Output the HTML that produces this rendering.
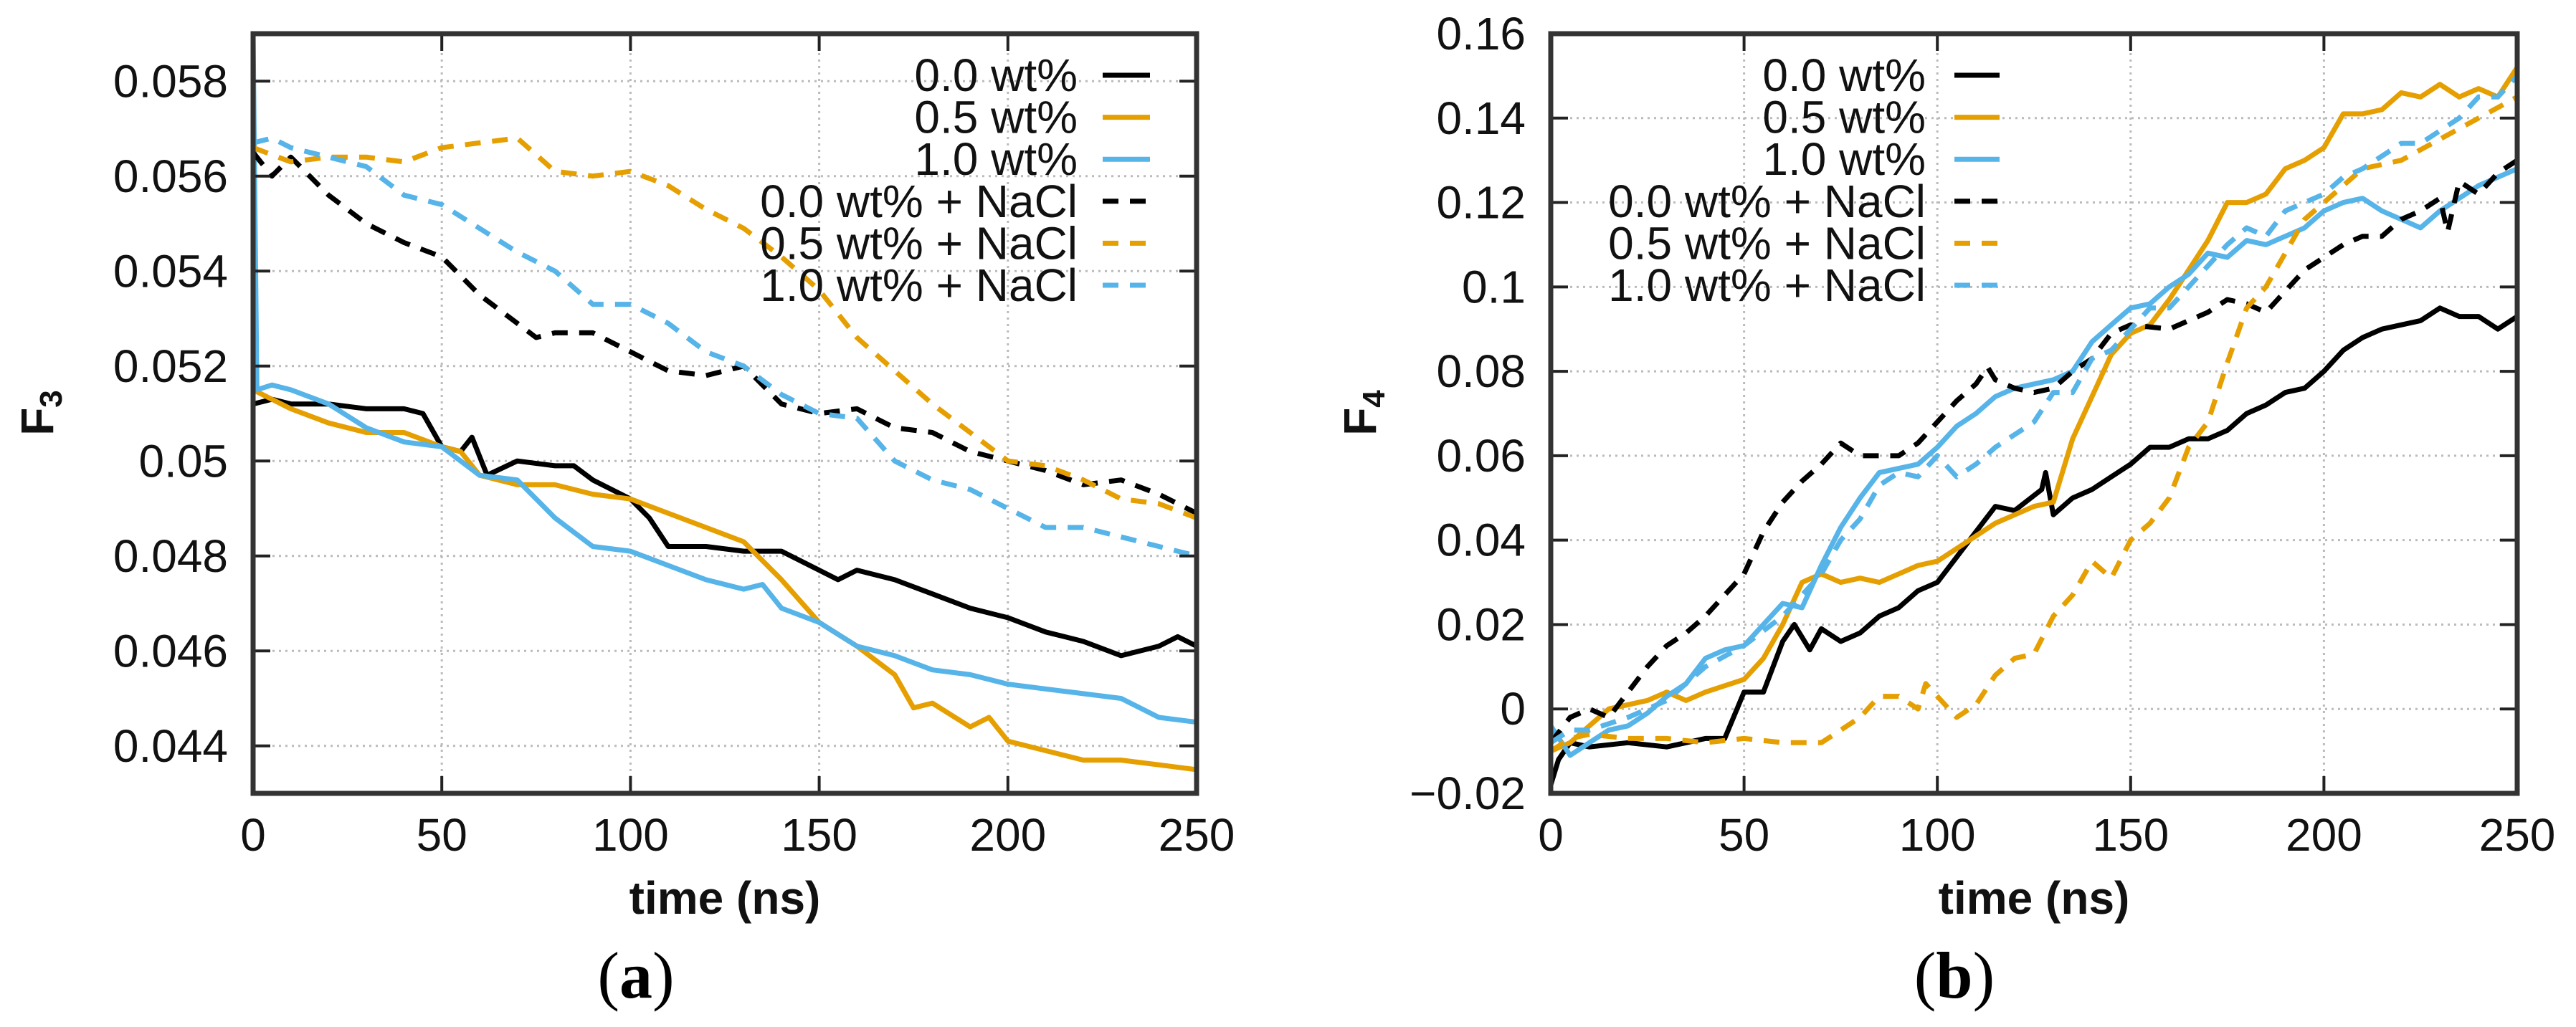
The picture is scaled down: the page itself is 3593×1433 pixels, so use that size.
<!DOCTYPE html>
<html><head><meta charset="utf-8"><style>
html,body{margin:0;padding:0;background:#fff;}
svg{display:block;font-family:"Liberation Sans",sans-serif;}
</style></head><body>
<svg id="root" width="3593" height="1433" viewBox="0 0 3593 1433" xmlns="http://www.w3.org/2000/svg"></svg>
<script>
// ---- Panel (a) data ----
const aXTicks = [0,50,100,150,200,250];
const aYTicks = [0.044,0.046,0.048,0.050,0.052,0.054,0.056,0.058];
const aYTickLabels = ["0.044","0.046","0.048","0.05","0.052","0.054","0.056","0.058"];
const aBlackT = [0,5,10,20,30,40,45,50,55,58,62,70,80,85,90,95,100,105,110,120,130,140,150,155,160,170,180,190,200,210,215,220,230,240,245,250];
const aBlackV = [0.0512,0.0513,0.0512,0.0512,0.0511,0.0511,0.0510,0.0503,0.0502,0.0505,0.0497,0.0500,0.0499,0.0499,0.0496,0.0494,0.0492,0.0488,0.0482,0.0482,0.0481,0.0481,0.0477,0.0475,0.0477,0.0475,0.0472,0.0469,0.0467,0.0464,0.0463,0.0462,0.0459,0.0461,0.0463,0.0461];
const aOrangeT = [0,10,20,30,40,50,55,60,70,80,90,100,110,120,130,140,150,160,170,175,180,190,195,200,210,220,230,240,250];
const aOrangeV = [0.0515,0.0511,0.0508,0.0506,0.0506,0.0503,0.0502,0.0497,0.0495,0.0495,0.0493,0.0492,0.0489,0.0486,0.0483,0.0475,0.0466,0.0461,0.0455,0.0448,0.0449,0.0444,0.0446,0.0441,0.0439,0.0437,0.0437,0.0436,0.0435];
const aBlueT = [0,1,5,10,20,30,40,50,60,70,80,90,100,110,120,130,135,140,150,160,170,180,190,200,210,220,230,240,250];
const aBlueV = [0.059,0.0515,0.0516,0.0515,0.0512,0.0507,0.0504,0.0503,0.0497,0.0496,0.0488,0.0482,0.0481,0.0478,0.0475,0.0473,0.0474,0.0469,0.0466,0.0461,0.0459,0.0456,0.0455,0.0453,0.0452,0.0451,0.0450,0.0446,0.0445];
const aBlackDT = [0,5,10,20,30,40,50,60,70,75,80,90,100,110,120,130,140,150,160,170,180,190,200,210,220,230,240,250];
const aBlackDV = [0.0565,0.0560,0.0564,0.0556,0.0550,0.0546,0.0543,0.0535,0.0529,0.0526,0.0527,0.0527,0.0523,0.0519,0.0518,0.0520,0.0512,0.0510,0.0511,0.0507,0.0506,0.0502,0.0500,0.0498,0.0495,0.0496,0.0493,0.0489];
const aOrangeDT = [0,10,20,30,40,50,60,70,80,90,100,110,120,130,140,150,160,170,180,190,200,210,220,230,240,250];
const aOrangeDV = [0.0566,0.0563,0.0564,0.0564,0.0563,0.0566,0.0567,0.0568,0.0561,0.0560,0.0561,0.0558,0.0553,0.0549,0.0543,0.0536,0.0526,0.0519,0.0512,0.0506,0.0500,0.0499,0.0496,0.0492,0.0491,0.0488];
const aBlueDT = [0,5,10,20,30,40,50,60,70,80,90,100,110,120,130,140,150,160,170,180,190,200,210,220,230,240,250];
const aBlueDV = [0.0567,0.0568,0.0566,0.0564,0.0562,0.0556,0.0554,0.0549,0.0544,0.0540,0.0533,0.0533,0.0529,0.0523,0.0520,0.0514,0.0510,0.0509,0.0500,0.0496,0.0494,0.0490,0.0486,0.0486,0.0484,0.0482,0.0480];
// ---- Panel (b) data ----
const bXTicks = [0,50,100,150,200,250];
const bYTicks = [-0.02,0,0.02,0.04,0.06,0.08,0.1,0.12,0.14,0.16];
const bYTickLabels = ["\u22120.02","0","0.02","0.04","0.06","0.08","0.1","0.12","0.14","0.16"];
const bBlackT = [0,2,5,10,20,30,40,45,50,55,60,63,67,70,75,80,85,90,95,100,105,110,115,120,127,128,130,135,140,145,150,155,160,165,170,175,180,185,190,195,200,205,210,215,220,225,230,235,240,245,250];
const bBlackV = [-0.018,-0.012,-0.008,-0.009,-0.008,-0.009,-0.007,-0.007,0.004,0.004,0.016,0.020,0.014,0.019,0.016,0.018,0.022,0.024,0.028,0.030,0.036,0.042,0.048,0.047,0.052,0.056,0.046,0.050,0.052,0.055,0.058,0.062,0.062,0.064,0.064,0.066,0.070,0.072,0.075,0.076,0.080,0.085,0.088,0.090,0.091,0.092,0.095,0.093,0.093,0.090,0.093];
const bOrangeT = [0,5,10,15,20,25,30,35,40,50,55,60,65,70,75,80,85,90,95,100,105,110,115,120,125,130,135,140,145,150,155,160,165,170,175,180,185,190,195,200,205,210,215,220,225,230,235,240,245,250];
const bOrangeV = [-0.010,-0.008,-0.004,0.000,0.001,0.002,0.004,0.002,0.004,0.007,0.012,0.020,0.030,0.032,0.030,0.031,0.030,0.032,0.034,0.035,0.038,0.041,0.044,0.046,0.048,0.049,0.064,0.074,0.084,0.089,0.091,0.097,0.104,0.111,0.120,0.120,0.122,0.128,0.130,0.133,0.141,0.141,0.142,0.146,0.145,0.148,0.145,0.147,0.145,0.152];
const bBlueT = [0,5,10,15,20,25,30,35,40,45,50,55,60,65,70,75,80,85,90,95,100,105,110,115,120,125,130,135,140,145,150,155,160,165,170,175,180,185,190,195,200,205,210,215,220,225,230,235,240,250];
const bBlueV = [-0.004,-0.011,-0.008,-0.005,-0.004,-0.001,0.003,0.006,0.012,0.014,0.015,0.020,0.025,0.024,0.034,0.043,0.050,0.056,0.057,0.058,0.062,0.067,0.070,0.074,0.076,0.077,0.078,0.080,0.087,0.091,0.095,0.096,0.100,0.103,0.108,0.107,0.111,0.110,0.112,0.114,0.118,0.120,0.121,0.118,0.116,0.114,0.118,0.121,0.124,0.128];
const bBlackDT = [0,5,10,15,20,25,30,35,40,45,50,55,60,65,70,75,80,90,95,100,105,110,113,115,120,125,130,135,140,145,150,160,165,170,175,180,185,190,195,200,205,210,215,220,225,230,232,235,240,245,250];
const bBlackDV = [-0.008,-0.002,0.000,-0.002,0.004,0.010,0.015,0.018,0.022,0.027,0.032,0.042,0.049,0.054,0.058,0.063,0.060,0.060,0.063,0.068,0.073,0.077,0.081,0.078,0.076,0.075,0.076,0.080,0.083,0.089,0.091,0.090,0.092,0.094,0.097,0.096,0.094,0.099,0.104,0.107,0.110,0.112,0.112,0.116,0.118,0.121,0.113,0.125,0.122,0.127,0.130];
const bOrangeDT = [0,5,10,20,30,40,50,60,70,75,80,85,90,95,97,100,105,110,115,120,125,130,135,140,145,150,155,160,165,170,175,180,185,190,195,200,210,220,230,240,250];
const bOrangeDV = [-0.010,-0.007,-0.006,-0.007,-0.007,-0.008,-0.007,-0.008,-0.008,-0.005,-0.002,0.003,0.003,0.000,0.006,0.003,-0.002,0.001,0.008,0.012,0.013,0.022,0.027,0.035,0.031,0.040,0.044,0.050,0.062,0.068,0.082,0.095,0.100,0.108,0.116,0.120,0.128,0.130,0.135,0.140,0.145];
const bBlueDT = [0,5,10,20,30,40,50,60,70,75,80,85,90,95,100,105,110,115,120,125,130,135,140,145,150,155,160,170,175,180,185,190,195,200,205,210,215,220,225,230,235,240,245,250];
const bBlueDV = [-0.008,-0.005,-0.005,-0.002,0.002,0.010,0.015,0.022,0.032,0.040,0.045,0.053,0.056,0.055,0.060,0.055,0.058,0.062,0.065,0.068,0.075,0.075,0.083,0.085,0.090,0.095,0.095,0.105,0.110,0.114,0.112,0.118,0.120,0.122,0.126,0.128,0.131,0.134,0.134,0.137,0.140,0.145,0.145,0.150];
const legendLabels = ["0.0 wt%","0.5 wt%","1.0 wt%","0.0 wt% + NaCl","0.5 wt% + NaCl","1.0 wt% + NaCl"];

const NS = "http://www.w3.org/2000/svg";
const root = document.getElementById('root');
const BLACK = "#000", ORANGE = "#e69f00", BLUE = "#56b4e9";
function mk(tag, attrs, parent){
  const e = document.createElementNS(NS, tag);
  for (const k in attrs) e.setAttribute(k, attrs[k]);
  (parent||root).appendChild(e);
  return e;
}
function panel(cfg){
  const g = mk('g', {});
  
  
  const L=cfg.L,R=cfg.R,T=cfg.T,B=cfg.B;
  const sx = t => L + (t - 0)/(250-0)*(R-L);
  const sy = v => B - (v - cfg.ymin)/(cfg.ymax-cfg.ymin)*(B-T);
  // grid
  cfg.xt.forEach(t=>{
    const l = mk('line',{x1:sx(t),x2:sx(t),y1:T,y2:B,stroke:"#bbb","stroke-width":3,"stroke-dasharray":"3 6"},g);
    
    
  });
  cfg.yt.forEach(v=>{
    const l = mk('line',{x1:L,x2:R,y1:sy(v),y2:sy(v),stroke:"#bbb","stroke-width":3,"stroke-dasharray":"3 6"},g);
    
    
  });
  // series
  const clipId = cfg.name+'-clip';
  const cp = mk('clipPath',{id:clipId},g);
  mk('rect',{x:L,y:T,width:R-L,height:B-T},cp);
  cfg.series.forEach(s=>{
    const d = s.t.map((t,i)=>(i?'L':'M')+sx(t).toFixed(1)+' '+sy(s.v[i]).toFixed(1)).join(' ');
    const p = mk('path',{d:d,fill:"none",stroke:s.c,"stroke-width":7,"stroke-linejoin":"round","clip-path":"url(#"+clipId+")"},g);
    if (s.dash) p.setAttribute('stroke-dasharray','22 16');
    
    
  });
  // ticks
  cfg.xt.forEach(t=>{
    mk('line',{x1:sx(t),x2:sx(t),y1:B,y2:B-24,stroke:"#222","stroke-width":4},g);
    mk('line',{x1:sx(t),x2:sx(t),y1:T,y2:T+24,stroke:"#222","stroke-width":4},g);
    const tx = mk('text',{x:sx(t),y:1187,"font-size":64,"text-anchor":"middle",fill:"#111"},g);
    tx.textContent = t;
    
    
  });
  cfg.yt.forEach((v,i)=>{
    mk('line',{x1:L,x2:L+24,y1:sy(v),y2:sy(v),stroke:"#222","stroke-width":4},g);
    mk('line',{x1:R,x2:R-24,y1:sy(v),y2:sy(v),stroke:"#222","stroke-width":4},g);
    const tx = mk('text',{x:cfg.ylabR,y:sy(v)+22,"font-size":64,"text-anchor":"end",fill:"#111"},g);
    tx.textContent = cfg.ytl[i];
    
    
  });
  const fr = mk('rect',{x:L,y:T,width:R-L,height:B-T,fill:"none",stroke:"#333","stroke-width":7},g);
  
  
  // legend
  legendLabels.forEach((lab,i)=>{
    const s = cfg.series[i];
    const y = 105 + i*58.6;
    const tx = mk('text',{x:cfg.legR,y:y+22,"font-size":64,"text-anchor":"end",fill:"#111"},g);
    tx.textContent = lab;
    
    
    const ln = mk('line',{x1:cfg.legX1,x2:cfg.legX2,y1:y,y2:y,stroke:s.c,"stroke-width":7},g);
    if (s.dash) ln.setAttribute('stroke-dasharray','22 16');
    
    
  });
  // axis titles
  const xl = mk('text',{x:(L+R)/2,y:1275,"font-size":64,"font-weight":"bold","text-anchor":"middle",fill:"#111"},g);
  xl.textContent = "time (ns)";
  
  
  const yl = mk('text',{x:0,y:0,"font-size":64,"font-weight":"bold","text-anchor":"middle",fill:"#111",transform:"translate("+(cfg.ytX+22)+",576) rotate(-90)"},g);
  yl.innerHTML = cfg.ytitle+'<tspan font-size="44" dy="12">'+cfg.sub+'</tspan>';
  
  
  const cap = mk('text',{x:cfg.capX,y:1392,"font-size":92,"text-anchor":"middle",fill:"#000","font-family":"Liberation Serif, serif"},g);
  cap.innerHTML = '(<tspan font-weight="bold">'+cfg.cap+'</tspan>)';
  
  
}
panel({name:'panel-a-f3-chart',L:353,R:1669,T:47,B:1107,ymin:0.043,ymax:0.059,xt:aXTicks,yt:aYTicks,ytl:aYTickLabels,ylabR:318,
  legR:1503,legX1:1538,legX2:1604,ytitle:"F",sub:"3",ytX:52,capX:887,cap:"a",
  series:[{t:aBlackT,v:aBlackV,c:BLACK,n:'line-0wt'},{t:aOrangeT,v:aOrangeV,c:ORANGE,n:'line-05wt'},{t:aBlueT,v:aBlueV,c:BLUE,n:'line-1wt'},
    {t:aBlackDT,v:aBlackDV,c:BLACK,dash:1,n:'line-0wt-nacl'},{t:aOrangeDT,v:aOrangeDV,c:ORANGE,dash:1,n:'line-05wt-nacl'},{t:aBlueDT,v:aBlueDV,c:BLUE,dash:1,n:'line-1wt-nacl'}]});
panel({name:'panel-b-f4-chart',L:2163,R:3511,T:47,B:1107,ymin:-0.02,ymax:0.16,xt:bXTicks,yt:bYTicks,ytl:bYTickLabels,ylabR:2128,
  legR:2686,legX1:2726,legX2:2789,ytitle:"F",sub:"4",ytX:1897,capX:2726,cap:"b",
  series:[{t:bBlackT,v:bBlackV,c:BLACK,n:'line-0wt'},{t:bOrangeT,v:bOrangeV,c:ORANGE,n:'line-05wt'},{t:bBlueT,v:bBlueV,c:BLUE,n:'line-1wt'},
    {t:bBlackDT,v:bBlackDV,c:BLACK,dash:1,n:'line-0wt-nacl'},{t:bOrangeDT,v:bOrangeDV,c:ORANGE,dash:1,n:'line-05wt-nacl'},{t:bBlueDT,v:bBlueDV,c:BLUE,dash:1,n:'line-1wt-nacl'}]});
</script>
</body></html>
